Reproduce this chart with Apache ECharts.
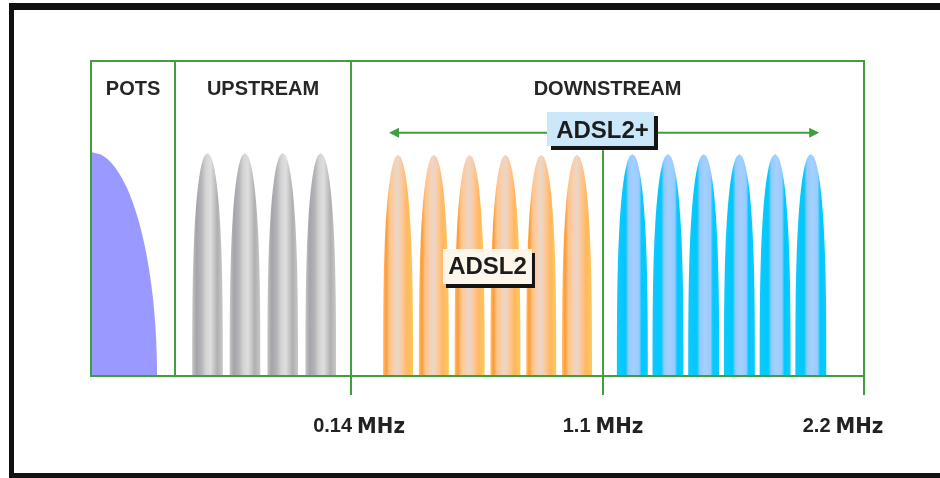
<!DOCTYPE html>
<html><head><meta charset="utf-8">
<script src="https://cdn.jsdelivr.net/npm/echarts@6/dist/echarts.min.js"></script>
<style>html,body{margin:0;padding:0;background:#fff}#c{width:940px;height:478px}</style>
</head><body><div id="c"></div>
<script>
// ---- data (schematic frequency position 0..100 on x, relative level 0..100 on y) ----
const bandNames = ['POTS', 'UPSTREAM', 'DOWNSTREAM'];
const bandEdges = [0, 10.87, 33.64, 100];
const tickLabels = ['0.14', '1.1', '2.2'];
const tickPositions = [33.64, 66.24, 100];
const potsCenters = [0];
const potsLevel = 71.1;
const upstreamCenters = [15.07, 19.92, 24.80, 29.72];
const upstreamLevel = 70.8;
const adsl2Centers = [39.72, 44.35, 48.98, 53.61, 58.24, 62.87];
const adsl2Level = 70.2;
const adsl2plusCenters = [70.03, 74.64, 79.26, 83.88, 88.50, 93.12];
const adsl2plusLevel = 70.5;
const adsl2plusSpan = [38.55, 94.2];
const adsl2plusSpanLevel = 77.2;
const tagNames = ['ADSL2+', 'ADSL2'];
const tagAnchors = [[65.91, 78.4], [51.29, 34.76]];
const bandTitleLevel = 91.1;
const splitTopLevel = 71.7;

// ---- styles ----
const GREEN = '#3f9f3f';
const tagStyles = [
  { w: 107, h: 34, bg: '#cbe7fa', sx: 4, sy: 4, tx: 2, ty: 2 },
  { w: 89, h: 35, bg: '#fcf7ea', sx: 3, sy: 4, tx: 0, ty: 1 }
];
const grayStops = [
  { offset: 0, color: '#c6c6c6' }, { offset: 0.14, color: '#a4a4aa' },
  { offset: 0.3, color: '#b4b4b8' }, { offset: 0.45, color: '#d4d4d4' },
  { offset: 0.6, color: '#dedede' }, { offset: 0.82, color: '#b0b0b2' },
  { offset: 1, color: '#c8c8c8' }
];
const orangeStops = [
  { offset: 0, color: '#ffc27a' }, { offset: 0.1, color: '#ff9a30' },
  { offset: 0.22, color: '#ffc58c' }, { offset: 0.4, color: '#f6d2b6' },
  { offset: 0.5, color: '#e8d6ca' }, { offset: 0.62, color: '#fccaa0' },
  { offset: 0.8, color: '#ffb860' }, { offset: 1, color: '#ffc85a' }
];
const blueStops = [
  { offset: 0, color: '#10c8fc' }, { offset: 0.28, color: '#00c8ff' },
  { offset: 0.38, color: '#96cbff' }, { offset: 0.55, color: '#a4d0ff' },
  { offset: 0.72, color: '#96cbff' }, { offset: 0.8, color: '#00c8ff' },
  { offset: 1, color: '#10c8fc' }
];

function lobeSeries(name, centers, level, halfW, q, fill, halfLeft) {
  return {
    type: 'custom', name: name, z: 2, silent: true,
    data: centers.map(function (c) { return [c, level]; }),
    renderItem: function (params, api) {
      const cx = api.value(0), h = api.value(1);
      const N = 90, pts = [];
      const w = function (t) { return halfW * Math.sqrt(Math.max(0, 1 - Math.pow(t, q))); };
      for (let i = 0; i <= N; i++) { const t = i / N; pts.push(api.coord([cx - (halfLeft ? 0 : w(t)), t * h])); }
      for (let i = N; i >= 0; i--) { const t = i / N; pts.push(api.coord([cx + w(t), t * h])); }
      return {
        type: 'polygon', shape: { points: pts },
        style: { fill: typeof fill === 'string' ? fill : new echarts.graphic.LinearGradient(0, 0, 1, 0, fill) }
      };
    }
  };
}

const chart = echarts.init(document.getElementById('c'), null, { renderer: 'canvas' });
const numStyle = { fontFamily: 'Liberation Sans', fontWeight: 'bold', fontSize: 20, color: '#222', verticalAlign: 'bottom', padding: [0, 0, 2, 0] };
const unitStyle = { fontFamily: 'DejaVu Sans Condensed', fontWeight: 'bold', fontSize: 22, color: '#222', verticalAlign: 'bottom', padding: [0, 0, 0, 5] };

chart.setOption({
  animation: false,
  backgroundColor: '#ffffff',
  grid: { left: 91, top: 61, width: 773, height: 315, show: true, borderColor: GREEN, borderWidth: 2, backgroundColor: 'transparent', z: 10 },
  xAxis: {
    type: 'value', min: 0, max: 100, z: 10,
    splitLine: { show: false },
    axisLine: { show: true, lineStyle: { color: GREEN, width: 2 } },
    axisTick: { show: true, customValues: tickPositions, length: 19, lineStyle: { color: GREEN, width: 2 } },
    axisLabel: {
      customValues: tickPositions, margin: 40,
      formatter: function (v) {
        let i = 0, best = 1e9;
        tickPositions.forEach(function (p, k) { if (Math.abs(p - v) < best) { best = Math.abs(p - v); i = k; } });
        return '{n' + i + '|' + tickLabels[i] + '}{u' + i + '|MHz}';
      },
      rich: {
        n0: Object.assign({}, numStyle, { padding: [0, 0, 2, 16] }), u0: unitStyle,
        n1: numStyle, u1: unitStyle,
        n2: numStyle, u2: Object.assign({}, unitStyle, { padding: [0, 42, 0, 5] })
      }
    }
  },
  yAxis: { type: 'value', min: 0, max: 100, show: false },
  graphic: [
    { type: 'rect', shape: { x: 9, y: 3, width: 931, height: 7 }, style: { fill: '#111' } },
    { type: 'rect', shape: { x: 9, y: 3, width: 5, height: 475 }, style: { fill: '#111' } },
    { type: 'rect', shape: { x: 9, y: 473, width: 931, height: 5 }, style: { fill: '#111' } }
  ],
  series: [
    lobeSeries('POTS', potsCenters, potsLevel, 8.54, 2, '#9999ff', true),
    lobeSeries('UPSTREAM', upstreamCenters, upstreamLevel, 1.98, 3, grayStops, false),
    lobeSeries('ADSL2', adsl2Centers, adsl2Level, 1.94, 3, orangeStops, false),
    lobeSeries('ADSL2+', adsl2plusCenters, adsl2plusLevel, 2.0, 3, blueStops, false),
    {
      type: 'custom', name: 'dividers', z: 11, silent: true,
      data: [[bandEdges[1], 100], [bandEdges[2], 100], [tickPositions[1], splitTopLevel]],
      renderItem: function (params, api) {
        const a = api.coord([api.value(0), 0]), b = api.coord([api.value(0), api.value(1)]);
        return { type: 'line', shape: { x1: a[0], y1: a[1], x2: b[0], y2: b[1] }, style: { stroke: GREEN, lineWidth: 2 } };
      }
    },
    {
      type: 'custom', name: 'span', z: 11, silent: true,
      data: [[adsl2plusSpan[0], adsl2plusSpan[1], adsl2plusSpanLevel]],
      renderItem: function (params, api) {
        const p1 = api.coord([api.value(0), api.value(2)]), p2 = api.coord([api.value(1), api.value(2)]);
        return {
          type: 'group', children: [
            { type: 'line', shape: { x1: p1[0] + 6, y1: p1[1], x2: p2[0] - 6, y2: p2[1] }, style: { stroke: GREEN, lineWidth: 2 } },
            { type: 'polygon', shape: { points: [[p1[0], p1[1]], [p1[0] + 10, p1[1] - 5], [p1[0] + 10, p1[1] + 5]] }, style: { fill: GREEN } },
            { type: 'polygon', shape: { points: [[p2[0], p2[1]], [p2[0] - 10, p2[1] - 5], [p2[0] - 10, p2[1] + 5]] }, style: { fill: GREEN } }
          ]
        };
      }
    },
    {
      type: 'custom', name: 'bands', z: 12, silent: true,
      data: bandNames.map(function (n, i) { return [(bandEdges[i] + bandEdges[i + 1]) / 2, bandTitleLevel]; }),
      renderItem: function (params, api) {
        const p = api.coord([api.value(0), api.value(1)]);
        return { type: 'text', style: { text: bandNames[params.dataIndex], x: p[0], y: p[1], textAlign: 'center', textVerticalAlign: 'middle', font: 'bold 20px "Liberation Sans", Arial, sans-serif', fill: '#262626' } };
      }
    },
    {
      type: 'custom', name: 'tags', z: 13, silent: true,
      data: tagAnchors,
      renderItem: function (params, api) {
        const s = tagStyles[params.dataIndex];
        const p = api.coord([api.value(0), api.value(1)]);
        const x = p[0] - s.w / 2, y = p[1] - s.h / 2;
        return {
          type: 'group', children: [
            { type: 'rect', shape: { x: x + s.sx, y: y + s.sy, width: s.w, height: s.h }, style: { fill: '#141414' } },
            { type: 'rect', shape: { x: x, y: y, width: s.w, height: s.h }, style: { fill: s.bg } },
            { type: 'text', style: { text: tagNames[params.dataIndex], x: p[0] + s.tx, y: p[1] + s.ty, textAlign: 'center', textVerticalAlign: 'middle', font: 'bold 24px "Liberation Sans", Arial, sans-serif', fill: '#1c1c1c' } }
          ]
        };
      }
    }
  ]
});
</script></body></html>
